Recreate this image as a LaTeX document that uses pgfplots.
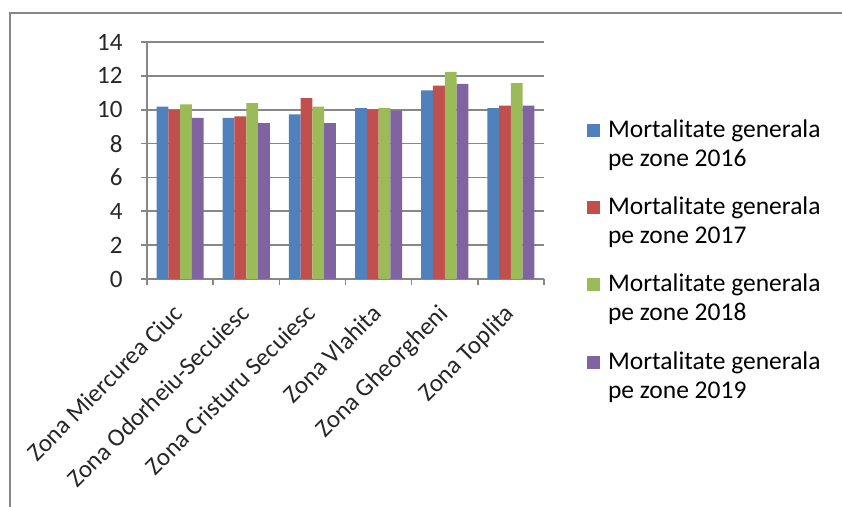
\documentclass[border=0pt]{standalone}
\usepackage{pgfplots}
\pgfplotsset{compat=1.18}
\usepackage{fontspec}
\setmainfont{Carlito}

\definecolor{s1}{HTML}{4F81BD}
\definecolor{s2}{HTML}{C0504D}
\definecolor{s3}{HTML}{9BBB59}
\definecolor{s4}{HTML}{8064A2}
\definecolor{gridc}{HTML}{878787}

\begin{document}
\fontsize{25bp}{29bp}\selectfont
\begin{tikzpicture}[x=1bp,y=1bp]
\useasboundingbox (0,0) rectangle (842,507);
% chart area frame (only top and left edges visible)
\draw[gridc, line width=1.8bp] (10,0) -- (10,494) -- (842,494);
\begin{axis}[
    at={(147bp,228bp)}, anchor=south west,
    width=397bp, height=237bp, scale only axis,
    xmin=-0.5, xmax=5.5, ymin=0, ymax=14,
    axis lines*=left,
    axis line style={gridc, line width=1.6bp},
    xtick={0,...,5},
    xticklabels={Zona Miercurea Ciuc, Zona Odorheiu-Secuiesc, Zona Cristuru Secuiesc,
                 Zona Vlahita, Zona Gheorgheni, Zona Toplita},
    minor xtick={-0.5,0.5,...,5.5},
    ytick={0,2,...,14}, minor ytick={0,2,...,14},
    major tick length=0pt, minor tick length=6bp, tick align=outside,
    tick style={gridc, line width=1.6bp},
    ymajorgrids, grid style={gridc, line width=1.6bp},
    /pgf/number format/assume math mode=true,
    tick label style={font=\fontsize{25bp}{29bp}\selectfont, text=black!85},
    yticklabel style={xshift=-16bp},
    xticklabel style={rotate=45, anchor=north east, yshift=-3bp, xshift=-14bp},
    ybar, bar width=0.178,
    legend style={at={(axis description cs:1.108,0.683)}, anchor=north west,
        draw=none, fill=none, inner sep=0pt, row sep=23bp, column sep=6bp,
        font=\fontsize{25.5bp}{29bp}\selectfont,
        cells={align=left, inner sep=2bp}},
    legend cell align=left,
    legend image code/.code={\fill[#1] (0bp,8bp) rectangle (13bp,21bp);
        \path[use as bounding box, fill=none, draw=none] (0bp,-21bp) rectangle (13bp,21bp);},
]
\addplot[fill=s1, draw=none, bar shift=-0.267] coordinates {
    (0,10.18) (1,9.51) (2,9.72) (3,10.10) (4,11.14) (5,10.10)};
\addlegendentry{Mortalitate generala\\pe zone 2016}
\addplot[fill=s2, draw=none, bar shift=-0.089] coordinates {
    (0,9.98) (1,9.61) (2,10.69) (3,10.02) (4,11.42) (5,10.24)};
\addlegendentry{Mortalitate generala\\pe zone 2017}
\addplot[fill=s3, draw=none, bar shift=0.089] coordinates {
    (0,10.31) (1,10.39) (2,10.18) (3,10.10) (4,12.24) (5,11.57)};
\addlegendentry{Mortalitate generala\\pe zone 2018}
\addplot[fill=s4, draw=none, bar shift=0.267] coordinates {
    (0,9.51) (1,9.21) (2,9.21) (3,9.94) (4,11.52) (5,10.24)};
\addlegendentry{Mortalitate generala\\pe zone 2019}
\end{axis}
\end{tikzpicture}
\end{document}
